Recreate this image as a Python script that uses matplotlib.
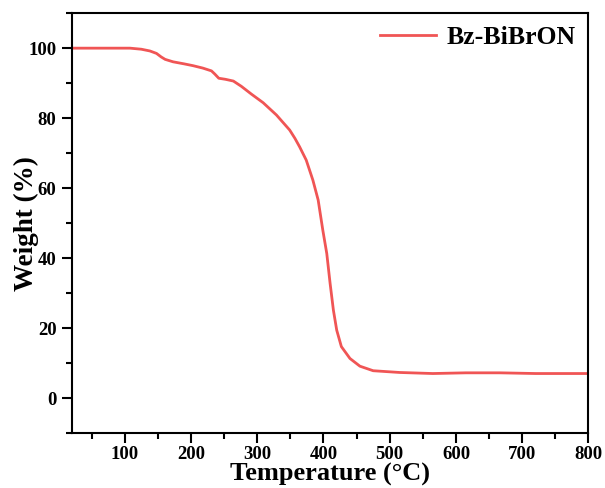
import matplotlib
matplotlib.use("Agg")
import matplotlib.pyplot as plt
from matplotlib.ticker import MultipleLocator

# TGA curve
temp = [20, 60, 108, 125, 138, 148, 155, 161, 173, 190, 203, 218, 231, 236, 242,
        252, 264, 276, 291, 309, 329, 349, 357, 364, 374, 384, 392, 399, 405,
        410, 415, 420, 427, 440, 455, 475, 515, 565, 615, 666, 720, 800]
weight = [100.0, 100.0, 100.0, 99.7, 99.2, 98.5, 97.5, 96.8, 96.1, 95.5, 95.0,
          94.3, 93.5, 92.6, 91.4, 91.1, 90.6, 89.1, 86.9, 84.4, 80.9, 76.6,
          74.2, 71.8, 68.0, 62.3, 56.6, 48.0, 41.3, 32.8, 25.1, 19.4, 14.7,
          11.3, 9.1, 7.8, 7.3, 7.0, 7.2, 7.2, 7.0, 7.0]

plt.rcParams['font.family'] = ['Liberation Serif', 'DejaVu Serif']
plt.rcParams['font.weight'] = 'bold'

fig = plt.figure(figsize=(6.05, 4.88), dpi=100)
ax = fig.add_axes([0.1185, 0.1127, 0.9727 - 0.1185, 0.973 - 0.1127])

ax.plot(temp, weight, color='#f05555', lw=2, label='Bz-BiBrON')

ax.set_xlim(20, 800)
ax.set_ylim(-10, 110)
ax.xaxis.set_major_locator(MultipleLocator(100))
ax.xaxis.set_minor_locator(MultipleLocator(50))
ax.yaxis.set_major_locator(MultipleLocator(20))
ax.yaxis.set_minor_locator(MultipleLocator(10))
ax.tick_params(which='major', length=7, width=1.5, labelsize=13.5, pad=4)
ax.tick_params(axis='x', which='major', pad=2)
ax.tick_params(which='minor', length=4, width=1.5)
for s in ax.spines.values():
    s.set_linewidth(1.5)
for lab in ax.get_xticklabels() + ax.get_yticklabels():
    lab.set_fontweight('bold')

ax.set_xlabel('Temperature (°C)', fontsize=19, fontweight='bold')
ax.set_ylabel('Weight (%)', fontsize=19.5, fontweight='bold')
ax.xaxis.set_label_coords(0.5, -0.071)
ax.xaxis.label.set_va('top')
ax.yaxis.set_label_coords(-0.088, 0.5)
ax.yaxis.label.set_va('center')

ax.legend(loc='upper right', frameon=False,
          prop={'weight': 'bold', 'size': 18.5}, handlelength=2.2,
          borderaxespad=0.1, handletextpad=0.4)

fig.savefig('out.png', dpi=100)
